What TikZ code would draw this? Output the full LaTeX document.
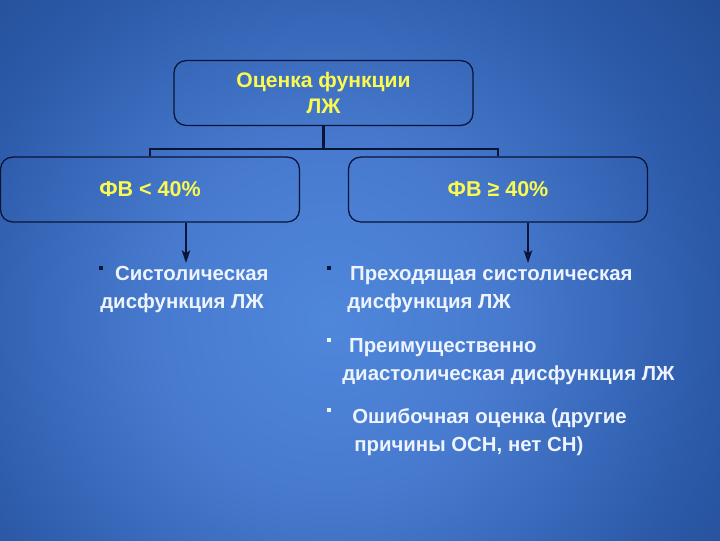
\documentclass[tikz,border=0pt]{standalone}
\usepackage{fontspec}
\setmainfont{Liberation Sans}
\usepackage{tikz}
\usetikzlibrary{arrows.meta,positioning,calc}

\definecolor{lblyellow}{RGB}{250,250,80}
\definecolor{itemtext}{RGB}{238,244,255}
\definecolor{boxline}{RGB}{10,20,55}
\definecolor{bgedge}{rgb}{0.10,0.25,0.50}
\pgfdeclareradialshading{bgshade}{\pgfpointorigin}{%
  rgb(0bp)=(0.31,0.53,0.86);
  rgb(8bp)=(0.28,0.48,0.81);
  rgb(18bp)=(0.17,0.35,0.66);
  rgb(26bp)=(0.12,0.28,0.55);
  rgb(32bp)=(0.10,0.25,0.50);
  rgb(50bp)=(0.10,0.25,0.50)}

\begin{document}
\begin{tikzpicture}[
        x=0.025cm, y=-0.025cm,
        box/.style={draw=boxline, line width=0.9pt, rounded corners=0.3cm, align=center,
          text=lblyellow, font=\bfseries\fontsize{15.3}{18.4}\selectfont,
          minimum width=7.47cm, minimum height=1.62cm, inner sep=0pt},
        item/.style={anchor=north west, align=left, inner sep=0pt, text=itemtext,
          font=\bfseries\fontsize{14.5}{19.8}\selectfont},
        bul/.style={fill=#1, minimum size=0.1cm, inner sep=0pt},
        link/.style={draw=boxline, line width=1.6pt},
        arr/.style={-{Stealth[length=9pt,width=6pt,inset=2pt]}, draw=boxline, line width=1.2pt}
    ]
        % background
        \useasboundingbox (0,0) rectangle (720,540);
        \begin{scope}
            \clip (0,0) rectangle (720,540);
            \fill[bgedge] (0,0) rectangle (720,540);
            \shade[shading=bgshade] (330,320) circle (540);
        \end{scope}

        % boxes
        \node[box, font=\bfseries\fontsize{15}{18.4}\selectfont] (top) at (323.5,93) {Оценка функции\\ЛЖ};
        \node[box] (low) at (150,189.5) {ФВ < 40\%};
        \node[box] (high) at (498,189.5) {ФВ ≥ 40\%};

        \coordinate (split) at (323.5,149);
        \draw[link] (top.south) -- (split);
        \draw[link] (split) -| (low.north);
        \draw[link] (split) -| (high.north);

        % arrow ends
        \coordinate (lowend) at (186,263);
        \coordinate (highend) at (528,263);
        \draw[arr] (lowend |- low.south) -- (lowend);
        \draw[arr] (highend |- high.south) -- (highend);

        % left list
        \node[bul=boxline] (b1) at (101,268) {};
        \node[item] (sys) at (100,266) {\hspace{0.37cm}Систолическая\\дисфункция ЛЖ};

        % right list
        \node[bul=boxline] (b2) at (329,268) {};
        \node[item] (trans) at (347,266) {\hspace{0.07cm}Преходящая систолическая\\дисфункция ЛЖ};
        \node[bul=itemtext] (b3) at (329,340) {};
        \node[item] (dias) at (342,338) {\hspace{0.17cm}Преимущественно\\диастолическая дисфункция ЛЖ};
        \node[bul=itemtext] (b4) at (329,410) {};
        \node[item] (err) at (352,408) {Ошибочная оценка (другие\\\hspace{0.05cm}причины ОСН, нет СН)};
    \end{tikzpicture}
\end{document}
